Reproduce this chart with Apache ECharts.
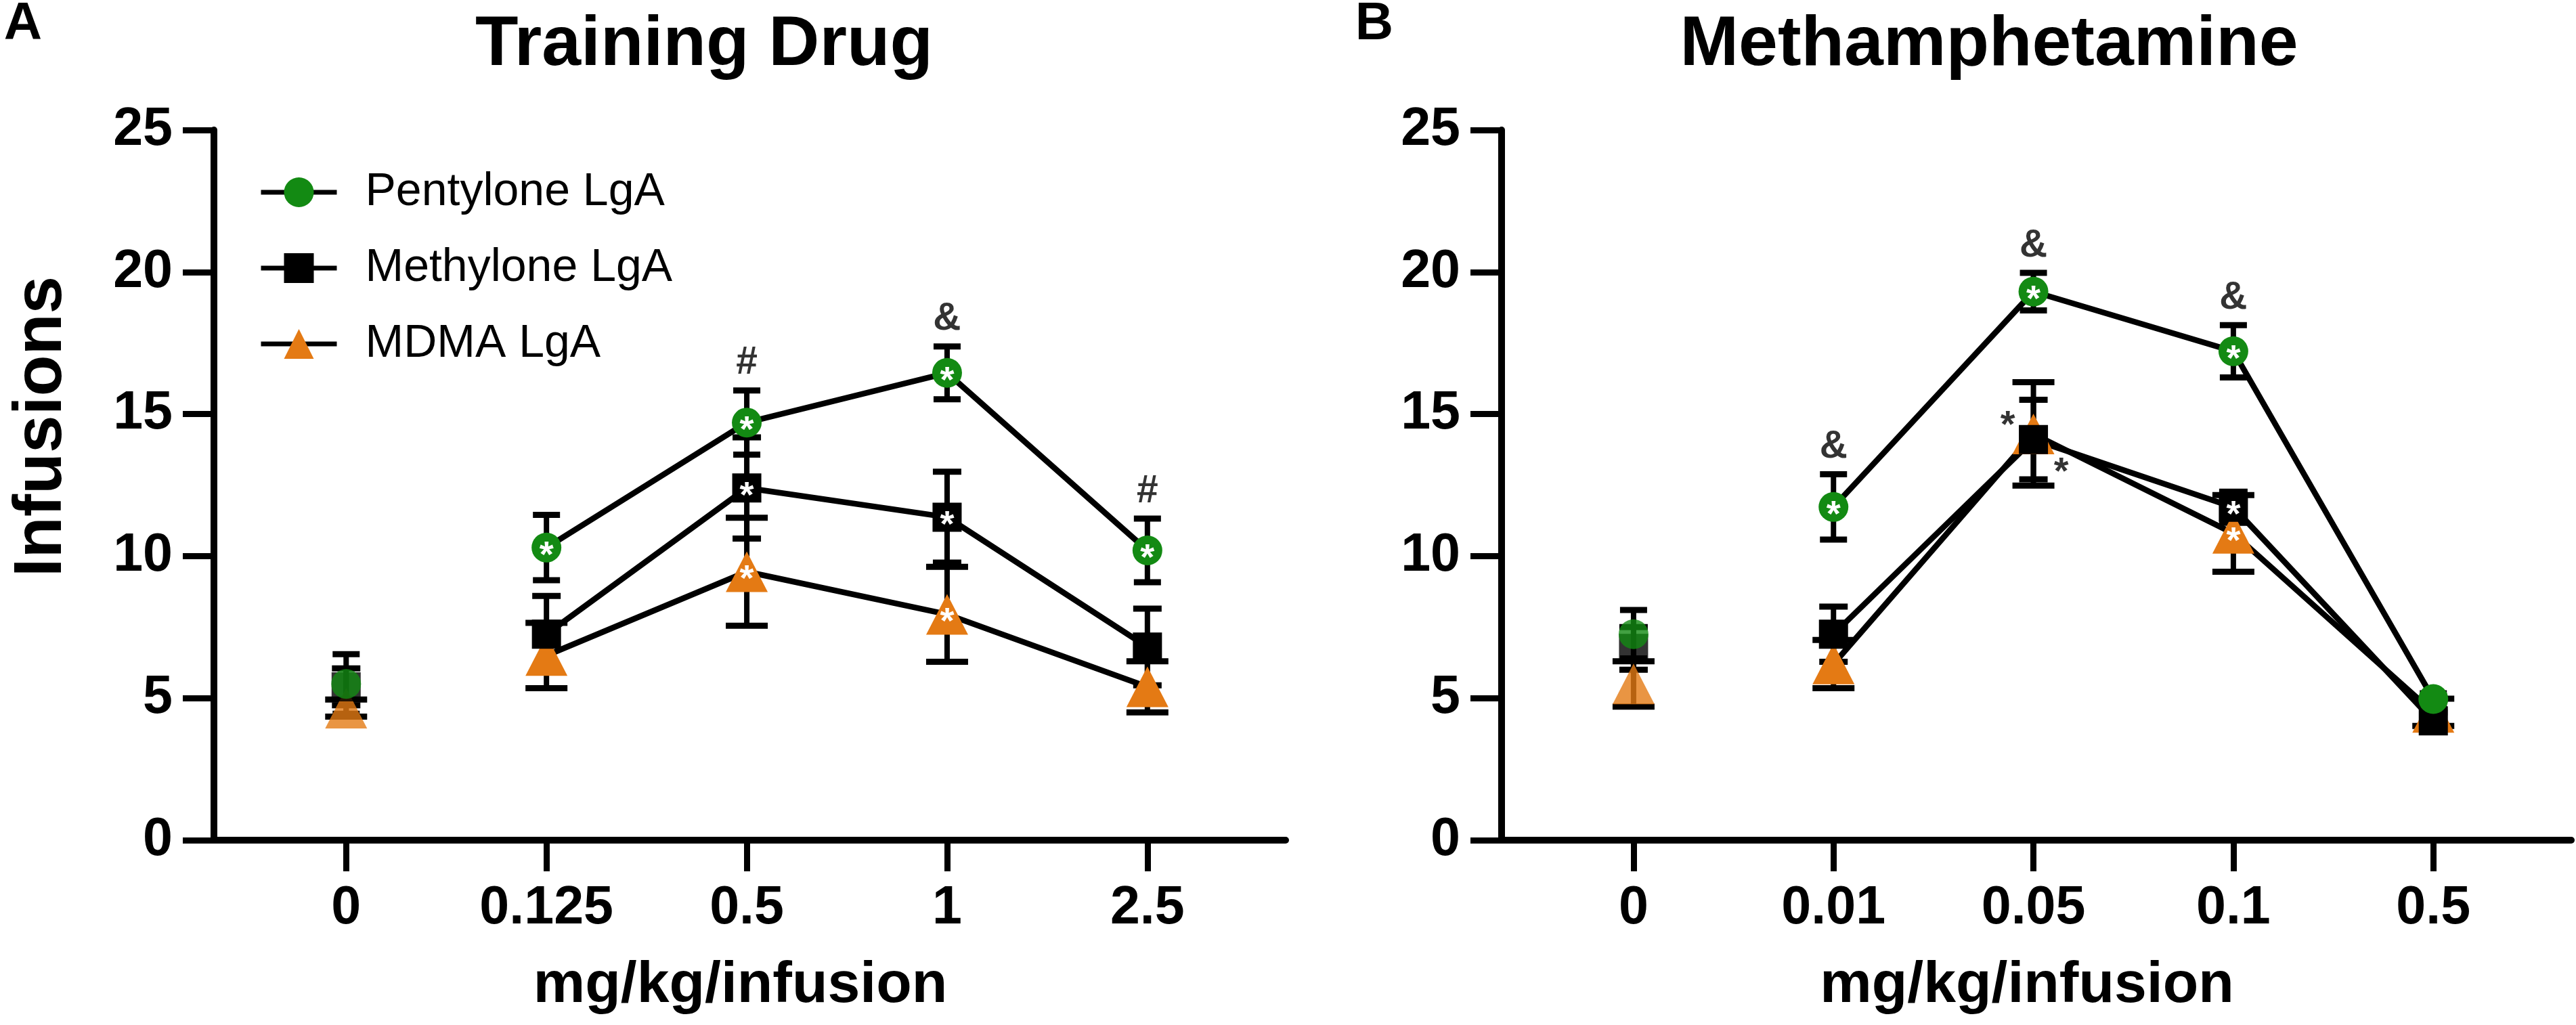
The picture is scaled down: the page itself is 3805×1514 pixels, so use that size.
<!DOCTYPE html>
<html>
<head>
<meta charset="utf-8">
<script src="https://cdn.jsdelivr.net/npm/echarts@6/dist/echarts.min.js"></script>
<style>
  html, body { margin: 0; padding: 0; background: #fff; }
  #chart { width: 3805px; height: 1514px; }
</style>
</head>
<body>
<div id="chart"></div>
<script>
// dose tick labels
const dosesA = ['0', '0.125', '0.5', '1', '2.5'];
const dosesB = ['0', '0.01', '0.05', '0.1', '0.5'];
const groups = ['Pentylone LgA', 'Methylone LgA', 'MDMA LgA'];

// panel A - training drug (mean, sem)
const pentA = [5.5, 10.3, 14.7, 16.45, 10.2];
const pentSemA = [1.05, 1.15, 1.13, 0.93, 1.12];
const methA = [5.4, 7.25, 12.4, 11.37, 6.8];
const methSemA = [0.65, 1.35, 1.78, 1.6, 1.35];
const mdmaA = [4.65, 6.5, 9.45, 7.95, 5.4];
const mdmaSemA = [0.3, 1.15, 1.9, 1.67, 0.9];

// panel B - methamphetamine (mean, sem)
const pentB = [7.25, 11.73, 19.31, 17.21, 4.97];
const pentSemB = [0.85, 1.15, 0.66, 0.92, 0.2];
const methB = [6.75, 7.25, 14.1, 11.72, 4.2];
const methSemB = [0.75, 0.97, 1.4, 0.55, 0.3];
const mdmaB = [5.5, 6.2, 14.3, 10.8, 4.5];
const mdmaSemB = [0.8, 0.85, 1.82, 1.35, 0.48];

// white asterisk inside marker (1 = yes)
const starPentA = [0, 1, 1, 1, 1];
const starMethA = [0, 0, 1, 1, 0];
const starMdmaA = [0, 0, 1, 1, 0];
const starPentB = [0, 1, 1, 1, 0];
const starMethB = [0, 0, 0, 1, 0];
const starMdmaB = [0, 0, 0, 1, 0];

// black asterisks beside the 0.05 point in B (methylone left, mdma right)
const sideStarMethB = [0, 0, 1, 0, 0];
const sideStarMdmaB = [0, 0, 1, 0, 0];

// symbols above the pentylone error bars
const markA = ['', '', '#', '&', '#'];
const markB = ['', '&', '&', '&', ''];

const FONT = '"Liberation Sans", Arial, Helvetica, sans-serif';
const GREEN = '#138a13';
const ORANGE = '#e47a14';

const look = [
  { symbol: 'circle', size: 44, color: GREEN, cap: 20 },
  { symbol: 'rect', size: 43, color: '#000', cap: 21 },
  { symbol: 'triangle', size: [62, 60], color: ORANGE, cap: 31 },
];

function errorBars(p, means, sems, halfCap) {
  return {
    type: 'custom',
    xAxisIndex: p,
    yAxisIndex: p,
    silent: true,
    data: means.map((m, i) => [i, m - sems[i], m + sems[i]]),
    encode: { x: 0, y: [1, 2] },
    renderItem: function (params, api) {
      const x = api.value(0);
      const lo = api.coord([x, api.value(1)]);
      const hi = api.coord([x, api.value(2)]);
      const stem = { stroke: '#000', lineWidth: 8 };
      const cap = { stroke: '#000', lineWidth: 9 };
      return {
        type: 'group',
        children: [
          { type: 'line', shape: { x1: lo[0], y1: lo[1], x2: hi[0], y2: hi[1] }, style: stem },
          { type: 'line', shape: { x1: hi[0] - halfCap, y1: hi[1], x2: hi[0] + halfCap, y2: hi[1] }, style: cap },
          { type: 'line', shape: { x1: lo[0] - halfCap, y1: lo[1], x2: lo[0] + halfCap, y2: lo[1] }, style: cap },
        ],
      };
    },
  };
}

const whiteStar = {
  show: false,
  formatter: '*',
  position: 'inside',
  color: '#fff',
  fontFamily: FONT,
  fontWeight: 'bold',
  fontSize: 54,
  offset: [0, 13],
};

function groupSeries(p, gi, means, sems, stars) {
  const lk = look[gi];
  const out = [errorBars(p, means, sems, lk.cap)];
  // dose-response line (doses only, vehicle point not connected)
  out.push({
    type: 'line',
    name: groups[gi],
    xAxisIndex: p,
    yAxisIndex: p,
    silent: true,
    symbol: lk.symbol,
    symbolSize: lk.size,
    showSymbol: true,
    itemStyle: { color: lk.color, borderWidth: 0 },
    lineStyle: { color: '#000', width: 8.5 },
    label: whiteStar,
    data: means.slice(1).map((m, i) => ({
      value: [i + 1, m],
      label: { show: !!stars[i + 1] },
    })),
  });
  // vehicle point
  out.push({
    type: 'scatter',
    xAxisIndex: p,
    yAxisIndex: p,
    silent: true,
    symbol: lk.symbol,
    symbolSize: lk.size,
    itemStyle: { color: lk.color },
    label: whiteStar,
    data: [{ value: [0, means[0]], label: { show: !!stars[0] } }],
  });
  return out;
}

function marks(p, means, sems, texts) {
  const data = [];
  texts.forEach((t, i) => {
    if (t) data.push({ value: [i, means[i] + sems[i]], label: { formatter: t } });
  });
  return {
    type: 'scatter',
    xAxisIndex: p,
    yAxisIndex: p,
    silent: true,
    symbolSize: 1,
    itemStyle: { color: 'rgba(0,0,0,0)' },
    label: {
      show: true,
      position: 'inside',
      offset: [0, -40],
      color: '#000',
      fontFamily: FONT,
      fontWeight: 'bold',
      fontSize: 57,
    },
    data: data,
  };
}

function sideStars(p, means, flags, dx, dy) {
  const data = [];
  flags.forEach((f, i) => { if (f) data.push([i, means[i]]); });
  return {
    type: 'scatter',
    xAxisIndex: p,
    yAxisIndex: p,
    silent: true,
    symbolSize: 1,
    itemStyle: { color: 'rgba(0,0,0,0)' },
    label: {
      show: true,
      formatter: '*',
      position: 'inside',
      offset: [dx, dy],
      color: '#000',
      fontFamily: FONT,
      fontWeight: 'bold',
      fontSize: 56,
    },
    data: data,
  };
}

function xAxisCfg(g, labels) {
  return {
    type: 'value',
    gridIndex: g,
    min: -0.66,
    max: 4.69,
    name: 'mg/kg/infusion',
    nameLocation: 'middle',
    nameGap: 172,
    nameTextStyle: { fontFamily: FONT, fontWeight: 'bold', fontSize: 86, color: '#000', padding: [0, 28, 0, 0] },
    axisLine: { show: true, onZero: false, lineStyle: { color: '#000', width: 10 } },
    axisTick: { show: true, length: 46, lineStyle: { color: '#000', width: 9 }, customValues: [0, 1, 2, 3, 4] },
    axisLabel: {
      show: true,
      margin: 62,
      fontFamily: FONT,
      fontWeight: 'bold',
      fontSize: 79,
      color: '#000',
      customValues: [0, 1, 2, 3, 4],
      formatter: (v) => labels[Math.round(v)],
    },
    splitLine: { show: false },
  };
}

function yAxisCfg(g) {
  return {
    type: 'value',
    gridIndex: g,
    min: 0,
    max: 25,
    interval: 5,
    axisLine: { show: true, onZero: false, lineStyle: { color: '#000', width: 10 } },
    axisTick: { show: true, length: 46, lineStyle: { color: '#000', width: 9 } },
    axisLabel: { margin: 61, fontFamily: FONT, fontWeight: 'bold', fontSize: 79, color: '#000' },
    splitLine: { show: false },
  };
}

const series = [].concat(
  groupSeries(0, 2, mdmaA, mdmaSemA, starMdmaA),
  groupSeries(0, 1, methA, methSemA, starMethA),
  groupSeries(0, 0, pentA, pentSemA, starPentA),
  marks(0, pentA, pentSemA, markA),
  groupSeries(1, 2, mdmaB, mdmaSemB, starMdmaB),
  groupSeries(1, 1, methB, methSemB, starMethB),
  groupSeries(1, 0, pentB, pentSemB, starPentB),
  marks(1, pentB, pentSemB, markB),
  sideStars(1, methB, sideStarMethB, -38, -20),
  sideStars(1, mdmaB, sideStarMdmaB, 41, 58)
);

const titleFont = 'bold 104px ' + FONT;
const letterFont = 'bold 78px ' + FONT;

const option = {
  animation: false,
  backgroundColor: '#fff',
  grid: [
    { left: 316, top: 192, width: 1583, height: 1049 },
    { left: 2218, top: 192, width: 1580, height: 1049 },
  ],
  xAxis: [xAxisCfg(0, dosesA), xAxisCfg(1, dosesB)],
  yAxis: [yAxisCfg(0), yAxisCfg(1)],
  legend: {
    data: groups,
    orient: 'vertical',
    left: 377,
    top: 245,
    itemWidth: 112,
    itemHeight: 55,
    itemGap: 44,
    selectedMode: false,
    lineStyle: { width: 7, color: '#000' },
    textStyle: { fontFamily: FONT, fontSize: 68, color: '#000', padding: [0, 0, 0, 37] },
  },
  graphic: [
    { type: 'text', x: 34, y: 36, style: { text: 'A', font: letterFont, fill: '#000', align: 'center', verticalAlign: 'middle' } },
    { type: 'text', x: 2030, y: 36, style: { text: 'B', font: letterFont, fill: '#000', align: 'center', verticalAlign: 'middle' } },
    { type: 'text', x: 1040, y: 67, style: { text: 'Training Drug', font: titleFont, fill: '#000', align: 'center', verticalAlign: 'middle' } },
    { type: 'text', x: 2938, y: 67, style: { text: 'Methamphetamine', font: titleFont, fill: '#000', align: 'center', verticalAlign: 'middle' } },
    { type: 'text', x: 62, y: 630, rotation: Math.PI / 2, style: { text: 'Infusions', font: 'bold 100px ' + FONT, fill: '#000', align: 'center', verticalAlign: 'middle' } },
  ],
  series: series,
};

const chart = echarts.init(document.getElementById('chart'));
chart.setOption(option);
</script>
</body>
</html>
